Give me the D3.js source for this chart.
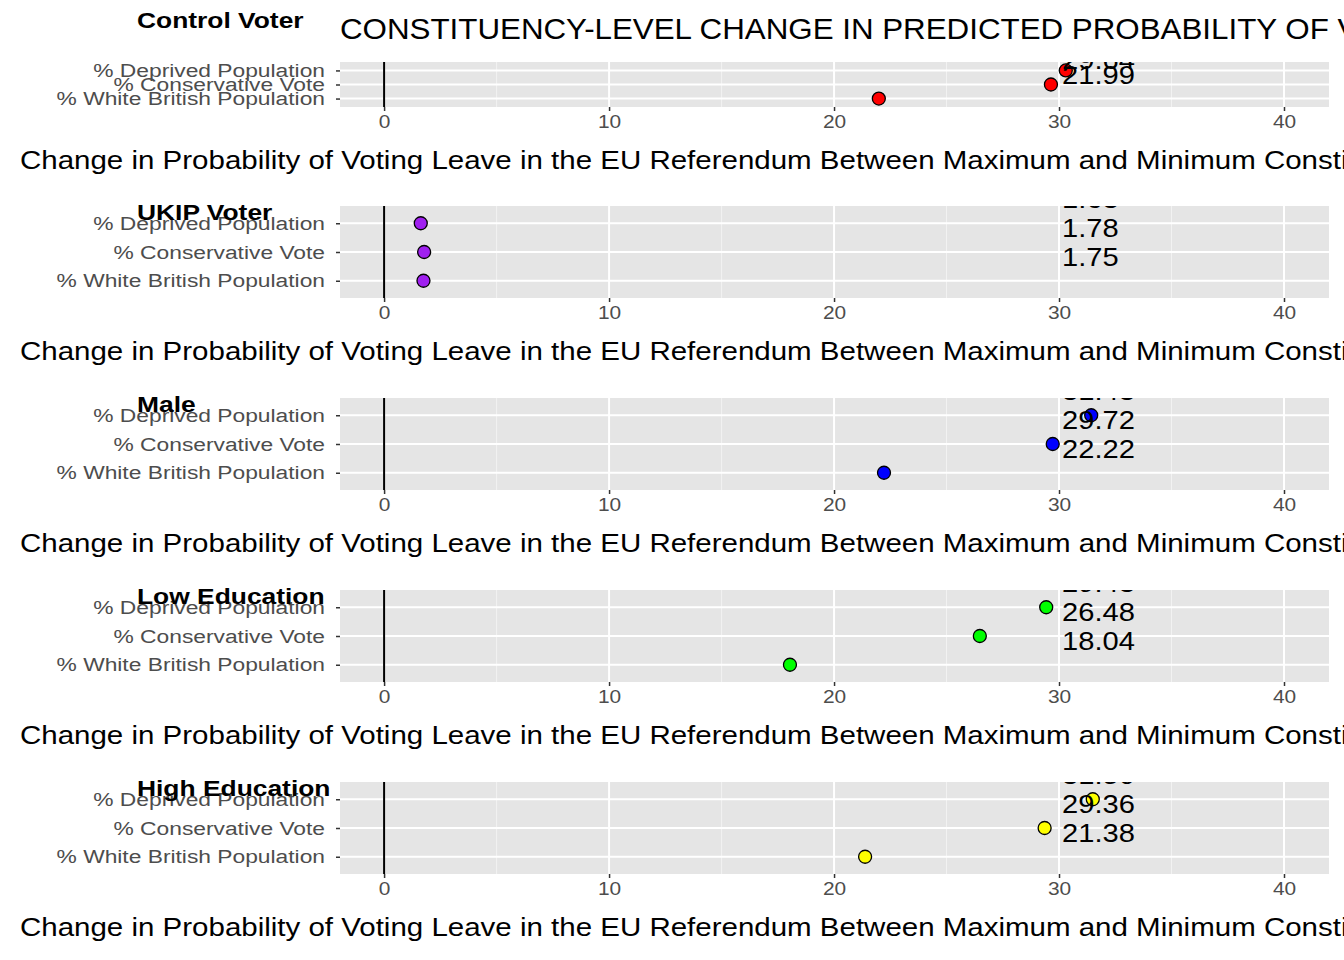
<!DOCTYPE html>
<html><head><meta charset="utf-8">
<script src="https://cdn.jsdelivr.net/npm/d3@7"></script>
<style>body{margin:0;background:#fff}text{font-family:"Liberation Sans",Arial,sans-serif}</style>
</head><body><svg id="c" width="1344" height="960"></svg>
<script>
const categories = ["% Deprived Population","% Conservative Vote","% White British Population"];
const panelNames = ["Control Voter","UKIP Voter","Male","Low Education","High Education"];
const panelColors = ["#FF0000","#A020F0","#0000FF","#00FF00","#FFFF00"];
const controlVals = [30.30, 29.64, 21.99];
const ukipVals = [1.63, 1.78, 1.75];
const maleVals = [31.43, 29.72, 22.22];
const lowEduVals = [29.43, 26.48, 18.04];
const highEduVals = [31.50, 29.36, 21.38];
const xTicks = [0,10,20,30,40];
const allVals = [controlVals, ukipVals, maleVals, lowEduVals, highEduVals];
const panels = [{top:62,bot:107},{top:206,bot:298},{top:398,bot:490},{top:590,bot:682},{top:782,bot:874}];

function stretch(sel, s){
  sel.each(function(){
    const t = d3.select(this);
    const tx = +(t.attr("x")||0);
    t.attr("transform",`translate(${tx},0) scale(${s},1) translate(${-tx},0)`);
  });
}

const svg = d3.select("#c");
const x = d3.scaleLinear().domain([-1.96,42]).range([340,1329]);
stretch(svg.append("text").attr("x",340).attr("y",39).attr("font-size",29).text("CONSTITUENCY-LEVEL CHANGE IN PREDICTED PROBABILITY OF VOTING LEAVE"),1.08);

panels.forEach((p,i)=>{
  const g = svg.append("g");
  const y = d3.scalePoint().domain(categories).range([p.top,p.bot]).padding(0.6);
  const cid = "clip"+i;
  g.append("clipPath").attr("id",cid).append("rect").attr("x",340).attr("y",p.top).attr("width",989).attr("height",p.bot-p.top);
  g.append("rect").attr("x",340).attr("y",p.top).attr("width",989).attr("height",p.bot-p.top).attr("fill","#E5E5E5");
  const pl = g.append("g").attr("clip-path",`url(#${cid})`);
  [5,15,25,35].forEach(v=>pl.append("line").attr("x1",x(v)).attr("x2",x(v)).attr("y1",p.top).attr("y2",p.bot).attr("stroke","#F2F2F2").attr("stroke-width",1));
  xTicks.forEach(v=>pl.append("line").attr("x1",x(v)).attr("x2",x(v)).attr("y1",p.top).attr("y2",p.bot).attr("stroke","#fff").attr("stroke-width",2));
  categories.forEach(c=>pl.append("line").attr("x1",340).attr("x2",1329).attr("y1",y(c)).attr("y2",y(c)).attr("stroke","#fff").attr("stroke-width",2));
  pl.append("line").attr("x1",x(0)).attr("x2",x(0)).attr("y1",p.top).attr("y2",p.bot).attr("stroke","#000").attr("stroke-width",2);
  const vals = allVals[i];
  categories.forEach((c,j)=>{
    pl.append("circle").attr("cx",x(vals[j])).attr("cy",y(c)).attr("r",6.5).attr("fill",panelColors[i]).attr("stroke","#000").attr("stroke-width",1.3);
  });
  categories.forEach((c,j)=>{
    stretch(pl.append("text").attr("x",x(30)+3).attr("y",y(c)-24+9).attr("font-size",26).attr("fill","#000").text(vals[j].toFixed(2)),1.12);
  });
  const ya = g.append("g").attr("transform","translate(340,0)").call(d3.axisLeft(y).tickSize(4).tickPadding(11));
  ya.select(".domain").remove();
  ya.selectAll("line").attr("stroke","#333").attr("stroke-width",1.5);
  stretch(ya.selectAll("text").attr("font-size",19).attr("fill","#4D4D4D").attr("font-family","Liberation Sans, Arial, sans-serif"),1.2);
  const xa = g.append("g").attr("transform",`translate(0,${p.bot})`).call(d3.axisBottom(x).tickValues(xTicks).tickSize(4).tickPadding(4));
  xa.select(".domain").remove();
  xa.selectAll("line").attr("stroke","#333").attr("stroke-width",1.5);
  stretch(xa.selectAll("text").attr("font-size",19).attr("fill","#4D4D4D").attr("font-family","Liberation Sans, Arial, sans-serif"),1.1);
  stretch(g.append("text").attr("x",20).attr("y",p.bot+62).attr("font-size",25).text("Change in Probability of Voting Leave in the EU Referendum Between Maximum and Minimum Constituency Values"),1.18);
  stretch(g.append("text").attr("x",137).attr("y",[28,220,412,604,796][i]).attr("font-size",22).attr("font-weight","bold").text(panelNames[i]),1.2);
});
</script></body></html>
